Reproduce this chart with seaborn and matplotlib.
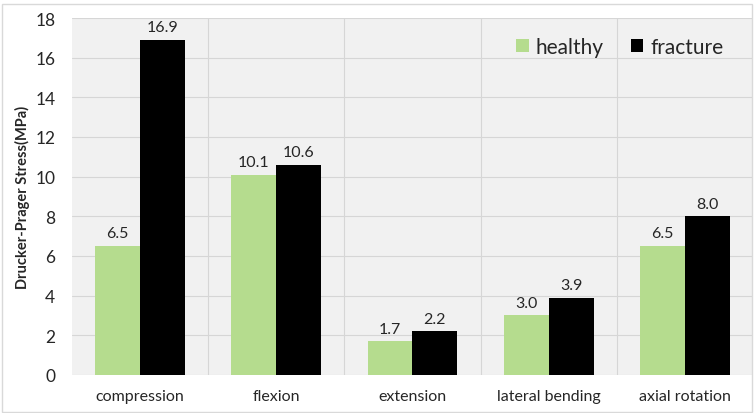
import numpy as np
import pandas as pd
import matplotlib
matplotlib.use('Agg')
import matplotlib.pyplot as plt
import seaborn as sns

# data
categories = ['compression', 'flexion', 'extension', 'lateral bending', 'axial rotation']
healthy = [6.5, 10.1, 1.7, 3.0, 6.5]
fracture = [16.9, 10.6, 2.2, 3.9, 8.0]
groups = ['healthy', 'fracture']
colors = ['#b5dc8e', '#000000']

df = pd.DataFrame({
    'category': categories * 2,
    'group': ['healthy'] * 5 + ['fracture'] * 5,
    'value': healthy + fracture,
})

sns.set_style('white')
plt.rcParams['font.family'] = ['Lato', 'DejaVu Sans']

fig = plt.figure(figsize=(7.54, 4.14), dpi=100)
ax = fig.add_axes([0.0955, 0.092, 0.903, 0.862])
ax.set_facecolor('#f1f1f1')

sns.barplot(data=df, x='category', y='value', hue='group', hue_order=groups,
            palette=colors, width=0.66, saturation=1, linewidth=0, ax=ax, zorder=3)

for cont in ax.containers:
    ax.bar_label(cont, fmt='%.1f', padding=4, fontsize=11.5)

ax.set_ylim(0, 18)
ax.set_yticks(range(0, 19, 2))
ax.set_xlim(-0.5, 4.5)
ax.yaxis.grid(True, color='#d6d6d6', lw=0.8, zorder=0)
for x in np.arange(0.5, 4.5, 1):
    ax.axvline(x, color='#d6d6d6', lw=0.8, zorder=0)
ax.set_axisbelow(True)
for s in ax.spines.values():
    s.set_visible(False)
ax.tick_params(axis='y', length=0, labelsize=12.5, pad=12)
ax.tick_params(axis='x', length=0, labelsize=11.5, pad=10)
ax.set_xlabel('')
ax.set_ylabel('Drucker-Prager Stress(MPa)', fontsize=10.5, fontweight='bold', labelpad=4)

leg = ax.legend(loc='upper right', ncol=2, frameon=False, fontsize=15,
                handlelength=0.6, handleheight=0.6, handletextpad=0.35,
                columnspacing=1.3, bbox_to_anchor=(0.985, 1.0))

fig.patches.append(plt.Rectangle((0.003, 0.003), 0.994, 0.985, transform=fig.transFigure,
                                 fill=False, ec='#d9d9d9', lw=1))

fig.savefig('out.png', dpi=100)
